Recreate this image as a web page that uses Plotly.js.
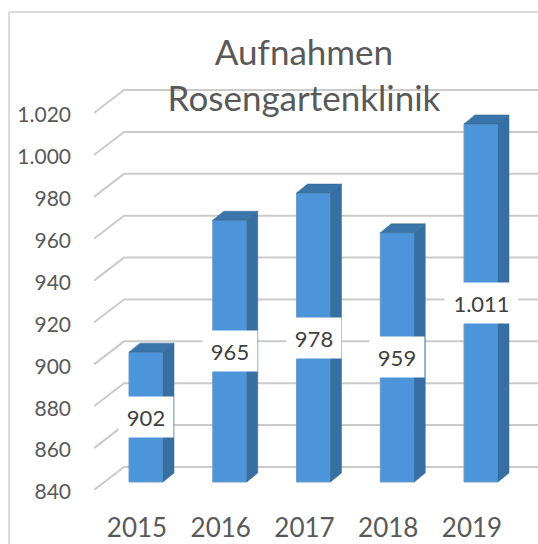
<!DOCTYPE html>
<html><head><meta charset="utf-8">
<script src="https://cdn.plot.ly/plotly-3.0.1.min.js"></script>
<style>html,body{margin:0;padding:0;background:#fff}#c{width:538px;height:544px}</style>
</head><body><div id="c"></div>
<script>
const years = [2015, 2016, 2017, 2018, 2019];
const values = [902, 965, 978, 959, 1011];
const gridValues = [840, 860, 880, 900, 920, 940, 960, 980, 1000, 1020];
const titleLines = ["Aufnahmen", "Rosengartenklinik"];

const pxPerYear = 83.75, pxPerUnit = 2.094;
const W = 538, H = 544, L = 94, B = 54;
const xRange = [2015 - (146 - L) / pxPerYear, 2015 + (W - 146) / pxPerYear];
const yRange = [840, 840 + (H - B) / pxPerUnit];
const shift = 8 / pxPerUnit;
const xw = 34 / pxPerYear, dx = 11 / pxPerYear, dy = 9 / pxPerUnit;
const wallDx = 30 / pxPerYear, wallDy = 23 / pxPerUnit;
const rightEnd = xRange[1];
const fmt = v => String(v).replace(/\B(?=(\d{3})+$)/g, ".");

const traces = [];
gridValues.forEach(v => traces.push({
  type: "scatter", mode: "lines", xaxis: "x", yaxis: "y", hoverinfo: "skip", showlegend: false,
  x: [xRange[0], xRange[0] + wallDx, rightEnd], y: [v, v + wallDy, v + wallDy],
  line: {color: "#cbcbcb", width: 2}
}));
traces.push({
  type: "bar", xaxis: "x2", yaxis: "y2", x: years, y: values.map(v => v - 840), base: 840,
  width: xw, marker: {color: "#4c95da", line: {color: "#6e9cc4", width: 1}}, showlegend: false
});
years.forEach((yr, i) => {
  const r = yr + xw / 2, l = yr - xw / 2, t = values[i];
  traces.push({
    type: "scatter", mode: "lines", fill: "toself", xaxis: "x2", yaxis: "y2", hoverinfo: "skip", showlegend: false,
    x: [r, r + dx, r + dx, r, r], y: [840, 840 + dy, t + dy, t, 840],
    line: {color: "#326a9e", width: 0.5}, fillcolor: "#386fa3"
  });
  traces.push({
    type: "scatter", mode: "lines", fill: "toself", xaxis: "x2", yaxis: "y2", hoverinfo: "skip", showlegend: false,
    x: [l, l + dx, r + dx, r, l], y: [t, t + dy, t + dy, t, t],
    line: {color: "#2f6494", width: 0.5}, fillcolor: "#3a74a8"
  });
});

const annotations = years.map((yr, i) => {
  const wide = values[i] >= 1000;
  return {
    xref: "x2", yref: "y2", x: yr, y: (values[i] + 840) / 2, text: fmt(values[i]), showarrow: false,
    font: {family: "Lato, sans-serif", size: 22, color: "#404040"},
    bgcolor: "#ffffff", width: wide ? 71 : 52, height: 38, align: "center", valign: "middle"
  };
});

Plotly.newPlot("c", traces, {
  width: W, height: H, paper_bgcolor: "#fff", plot_bgcolor: "rgba(0,0,0,0)",
  margin: {l: L, r: 0, t: 0, b: B}, separators: ",.", showlegend: false, barmode: "overlay",
  font: {family: "Lato, sans-serif", color: "#595959"},
  title: {text: titleLines.join("<br>"), x: 304 / W, xanchor: "center", y: 1 - 65 / H, yanchor: "top",
          font: {family: "Lato, sans-serif", size: 35, color: "#595959"}},
  xaxis: {range: xRange, tickmode: "array", tickvals: years, ticktext: years.map(String),
          ticklabelshift: -9, ticklabelstandoff: 20, showgrid: false, zeroline: false, showline: false, ticks: "",
          tickfont: {size: 26, color: "#595959"}},
  yaxis: {range: yRange, tickmode: "array", tickvals: gridValues, tickformat: ",d", showgrid: false, zeroline: false,
          showline: false, ticks: "", ticklabelstandoff: 22, ticklabelshift: 2, tickfont: {size: 21, color: "#595959"}},
  xaxis2: {range: xRange, overlaying: "x", visible: false},
  yaxis2: {range: [yRange[0] - shift, yRange[1] - shift], overlaying: "y", visible: false},
  annotations: annotations,
  shapes: [{type: "line", xref: "paper", yref: "paper", x0: -85 / (W - L), x1: -85 / (W - L), y0: -B / (H - B), y1: 1 - 12 / (H - B), line: {color: "#dcdcdc", width: 2}},
           {type: "line", xref: "paper", yref: "paper", x0: -85 / (W - L), x1: 1, y0: 1 - 12 / (H - B), y1: 1 - 12 / (H - B), line: {color: "#dcdcdc", width: 2}}]
}, {displayModeBar: false, staticPlot: true});
</script></body></html>
